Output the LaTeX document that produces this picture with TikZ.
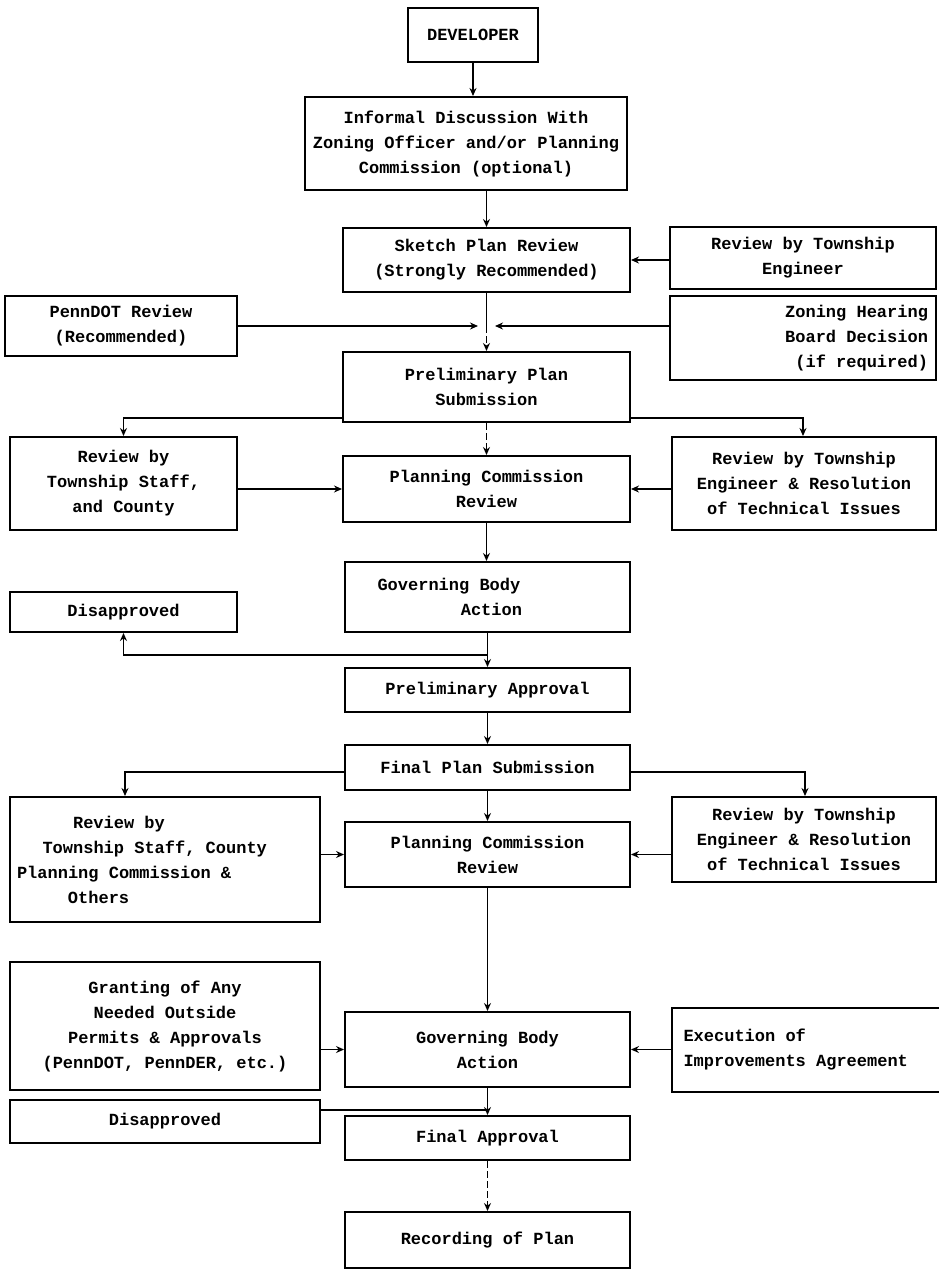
\documentclass[tikz,border=0pt]{standalone}
\usepackage{fontspec}
\setmainfont{Liberation Mono}[WordSpace={1,0,0}]
\usetikzlibrary{arrows.meta}
\newcommand\fixsp{\spaceskip=0pt\xspaceskip=0pt\relax}
\begin{document}
\begin{tikzpicture}[x=1pt,y=-1pt,
  box/.style={draw, line width=2pt, inner sep=0pt, align=center,
    font=\fontsize{17}{25}\selectfont\bfseries},
  conn/.style={line width=1.4pt},
  arr/.style={conn, -{Stealth[length=8pt,width=7pt]}},
  dsh/.style={dash pattern=on 7pt off 3pt}]
\useasboundingbox (0,0) rectangle (939,1270);
\fill[white] (0,0) rectangle (939,1270);

\node[box, minimum width=130pt, minimum height=54pt] (dev) at (473,35) {DEVELOPER};
\node[box, minimum width=322pt, minimum height=93pt] (inf) at (466,143.5) {Informal Discussion With\\Zoning Officer and/or Planning\\Commission (optional)};
\node[box, minimum width=287pt, minimum height=64pt] (sk) at (486.5,260) {Sketch Plan Review\\(Strongly Recommended)};
\node[box, minimum width=266pt, minimum height=62pt] (rte1) at (803,258) {Review by Township\\Engineer};
\node[box, minimum width=232pt, minimum height=60pt] (pdot) at (121,326) {PennDOT Review\\(Recommended)};
\node[box, minimum width=266pt, minimum height=84pt, text width=250pt, align=right] (zon) at (803,338) {\fixsp Zoning Hearing\\Board Decision\\(if required)};
\node[box, minimum width=287pt, minimum height=70pt] (ps) at (486.5,387) {Preliminary Plan\\Submission};
\node[box, minimum width=227pt, minimum height=93pt] (staff1) at (123.5,483.5) {Review by\\Township Staff,\\and County};
\node[box, minimum width=287pt, minimum height=66pt] (pcr1) at (486.5,489) {Planning Commission\\Review};
\node[box, minimum width=264pt, minimum height=93pt] (rte2) at (804,483.5) {Review by Township\\Engineer \& Resolution\\of Technical Issues};
\node[box, minimum width=285pt, minimum height=70pt, text width=220pt, align=left] (gba1) at (487.5,597) {\fixsp Governing Body\\\hspace*{4.9em}Action};
\node[box, minimum width=227pt, minimum height=40pt] (dis1) at (123.5,612) {Disapproved};
\node[box, minimum width=285pt, minimum height=44pt] (pa) at (487.5,690) {Preliminary Approval};
\node[box, minimum width=285pt, minimum height=45pt] (fps) at (487.5,767.5) {Final Plan Submission};
\node[box, minimum width=310pt, minimum height=125pt, text width=296pt, align=left] (staff2) at (165,859.5) {\fixsp\hspace*{3.3em}Review by\\\hspace*{1.5em}Township Staff, County\\Planning Commission \&\\\hspace*{3em}Others};
\node[box, minimum width=285pt, minimum height=65pt] (pcr2) at (487.5,854.5) {Planning Commission\\Review};
\node[box, minimum width=264pt, minimum height=85pt] (rte3) at (804,839.5) {Review by Township\\Engineer \& Resolution\\of Technical Issues};
\node[box, minimum width=310pt, minimum height=128pt] (gra) at (165,1026) {Granting of Any\\Needed Outside\\Permits \& Approvals\\(PennDOT, PennDER, etc.)};
\node[box, minimum width=285pt, minimum height=75pt] (gba2) at (487.5,1049.5) {Governing Body\\Action};
\node[box, minimum width=273pt, minimum height=84pt, text width=250pt, align=left] (exe) at (808.5,1050) {\fixsp Execution of\\Improvements Agreement};
\node[box, minimum width=310pt, minimum height=43pt] (dis2) at (165,1121.5) {Disapproved};
\node[box, minimum width=285pt, minimum height=44pt] (fa) at (487.5,1138) {Final Approval};
\node[box, minimum width=285pt, minimum height=56pt] (rec) at (487.5,1240) {Recording of Plan};

% connectors
\coordinate (j) at (486.5,326);
\coordinate (jl) at (478,326);
\coordinate (jr) at (495,326);
\coordinate (d1) at (487.5,655);
\coordinate (d2) at (487.5,1110);

\draw[arr] (dev.south) -- (dev.south |- inf.north);
\draw[arr] (sk.north |- inf.south) -- (sk.north);
\draw[arr] (rte1.west |- sk.east) -- (sk.east);
\draw[conn] (sk.south) -- (j);
\draw[arr, dsh] (j) -- (ps.north);
\draw[arr] (pdot.east) -- (jl);
\draw[arr] (zon.west |- j) -- (jr);

\draw[arr] (ps.west |- 0,418) -| (staff1.north);
\draw[arr] (ps.east |- 0,418) -| (rte2.north -| 803,0);
\draw[arr, dsh] (ps.south) -- (pcr1.north);
\draw[arr] (staff1.east |- pcr1.west) -- (pcr1.west);
\draw[arr] (rte2.west |- pcr1.east) -- (pcr1.east);
\draw[arr] (pcr1.south) -- (pcr1.south |- gba1.north);

\draw[arr] (gba1.south) -- (pa.north);
\draw[arr] (d1) -| (dis1.south);
\draw[arr] (pa.south) -- (fps.north);

\draw[arr] (fps.west |- 0,772) -| (staff2.north -| 125,0);
\draw[arr] (fps.east |- 0,772) -| (rte3.north -| 805,0);
\draw[arr] (fps.south) -- (pcr2.north);
\draw[arr] (staff2.east |- pcr2.west) -- (pcr2.west);
\draw[arr] (rte3.west |- pcr2.east) -- (pcr2.east);
\draw[arr] (pcr2.south) -- (gba2.north);

\draw[arr] (gra.east |- gba2.west) -- (gba2.west);
\draw[arr] (exe.west |- gba2.east) -- (gba2.east);
\draw[arr] (gba2.south) -- (fa.north);
\draw[conn] (dis2.east |- d2) -- (d2);
\draw[arr, dsh] (fa.south) -- (rec.north);
\end{tikzpicture}
\end{document}
